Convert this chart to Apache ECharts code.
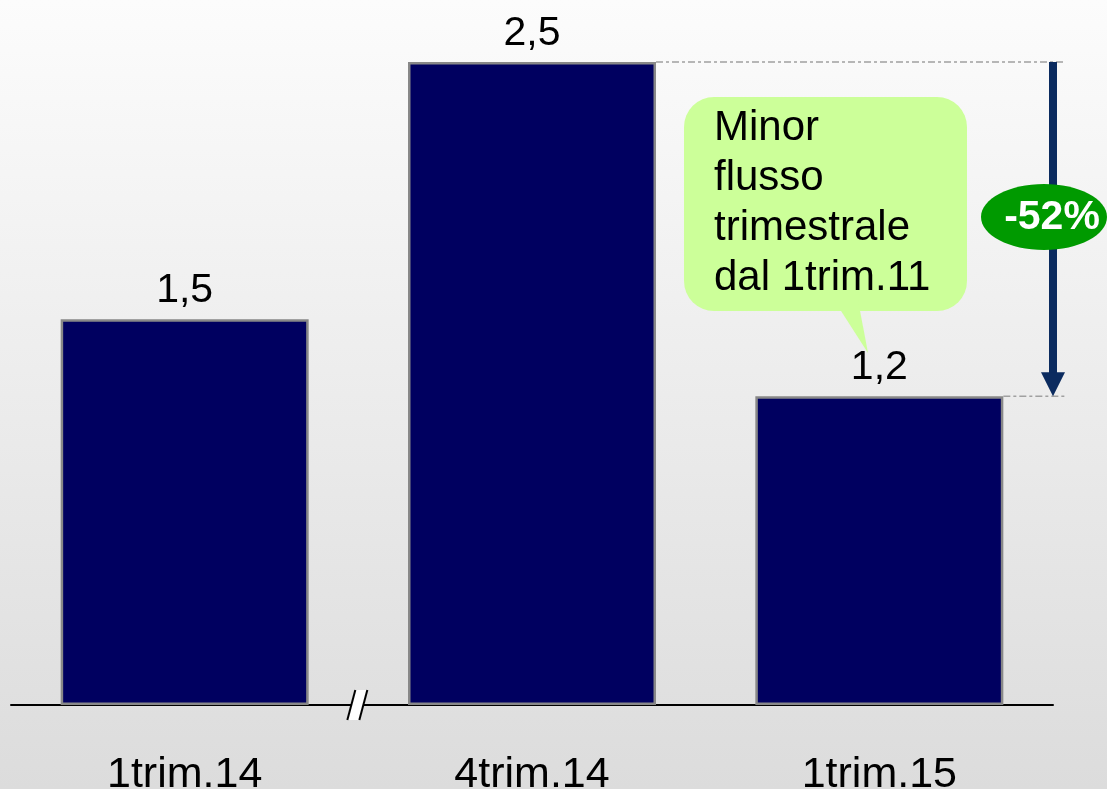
<!DOCTYPE html>
<html>
<head>
<meta charset="utf-8">
<script src="https://cdn.jsdelivr.net/npm/echarts@6/dist/echarts.min.js"></script>
<style>
  html, body { margin: 0; padding: 0; }
  #chart { width: 1107px; height: 789px; }
</style>
</head>
<body>
<div id="chart"></div>
<script>
// Flusso trimestrale: three quarters, with the change from 4trim.14 to 1trim.15
const categories = ['1trim.14', '4trim.14', '1trim.15'];
const values = [1.5, 2.5, 1.2];
const calloutLines = ['Minor', 'flusso', 'trimestrale', 'dal 1trim.11'];

const FONT = '"Liberation Sans", Arial, sans-serif';
const fmt = v => String(v.toFixed(1)).replace('.', ',');

const chart = echarts.init(document.getElementById('chart'));

chart.setOption({
  backgroundColor: {
    type: 'linear', x: 0, y: 0, x2: 0, y2: 1,
    colorStops: [
      { offset: 0, color: '#fcfcfc' },
      { offset: 1, color: '#dcdcdc' }
    ]
  },
  animation: false,
  grid: {
    left: 11, right: 54, top: 62, bottom: 84,
    containLabel: false, outerBoundsMode: 'none'
  },
  xAxis: {
    type: 'category',
    data: categories,
    axisLine: { lineStyle: { color: '#000', width: 2 } },
    axisTick: { show: false },
    axisLabel: { color: '#000', fontSize: 43, fontFamily: FONT, margin: 49 }
  },
  yAxis: {
    type: 'value', min: 0, max: 2.5,
    show: false, splitLine: { show: false }
  },
  series: [{
    type: 'bar',
    data: values,
    barWidth: 248,
    itemStyle: { color: '#000060', borderColor: '#888888', borderWidth: 2.5 },
    label: {
      show: true, position: 'top', distance: 8,
      color: '#000', fontSize: 41, fontFamily: FONT,
      formatter: p => fmt(p.value)
    }
  }]
});

// Annotations placed through the axes' own scales
function drawAnnotations() {
  const px = (i, v) => chart.convertToPixel({ seriesIndex: 0 }, [i, v]);
  const halfBar = 248 / 2;

  const [c0, yBase] = px(0, 0);
  const [c1] = px(1, 0);
  const breakX = (c0 + c1) / 2;

  const [c1x, yHigh] = px(1, values[1]);
  const [c2x, yLow] = px(2, values[2]);
  const arrowX = 1053;
  const dashEnd = 1065;
  const change = Math.round((values[2] - values[1]) / values[1] * 100);

  const graphic = [
    // axis break mark
    {
      type: 'polygon', z: 10,
      shape: { points: [[breakX - 11, yBase + 15], [breakX - 3, yBase - 15], [breakX + 9, yBase - 15], [breakX + 1, yBase + 15]] },
      style: { fill: '#ffffff' }
    },
    {
      type: 'line', z: 11,
      shape: { x1: breakX - 11, y1: yBase + 15, x2: breakX - 3, y2: yBase - 15 },
      style: { stroke: '#000', lineWidth: 2 }
    },
    {
      type: 'line', z: 11,
      shape: { x1: breakX + 1, y1: yBase + 15, x2: breakX + 9, y2: yBase - 15 },
      style: { stroke: '#000', lineWidth: 2 }
    },
    // reference lines from the two compared bars
    {
      type: 'line', z: 5,
      shape: { x1: c1x + halfBar, y1: yHigh, x2: dashEnd, y2: yHigh },
      style: { stroke: '#a0a0a0', lineWidth: 1.5, lineDash: [7, 3, 3, 3] }
    },
    {
      type: 'line', z: 5,
      shape: { x1: c2x + halfBar, y1: yLow, x2: dashEnd, y2: yLow },
      style: { stroke: '#a0a0a0', lineWidth: 1.5, lineDash: [7, 3, 3, 3] }
    },
    // downward arrow
    {
      type: 'rect', z: 6,
      shape: { x: arrowX - 4, y: yHigh, width: 8, height: yLow - yHigh - 22 },
      style: { fill: '#0b2b5f' }
    },
    {
      type: 'polygon', z: 6,
      shape: { points: [[arrowX - 12, yLow - 24], [arrowX + 12, yLow - 24], [arrowX, yLow]] },
      style: { fill: '#0b2b5f' }
    },
    // percentage badge
    {
      type: 'ellipse', z: 8,
      shape: { cx: 1044, cy: 217, rx: 63, ry: 33 },
      style: { fill: '#009a00' }
    },
    {
      type: 'text', z: 9,
      x: 1052, y: 218,
      style: {
        text: change + '%', fill: '#fff', fontSize: 41, fontWeight: 'bold',
        fontFamily: FONT, align: 'center', verticalAlign: 'middle'
      }
    },
    // callout bubble
    {
      type: 'rect', z: 8,
      shape: { x: 684, y: 97, width: 283, height: 214, r: 30 },
      style: { fill: '#ccff99' }
    },
    {
      type: 'polygon', z: 8,
      shape: { points: [[834, 300], [858, 300], [868, 353]] },
      style: { fill: '#ccff99' }
    },
    {
      type: 'text', z: 9,
      x: 714, y: 103,
      style: {
        text: calloutLines.join('\n'), fill: '#000', fontSize: 42,
        lineHeight: 50, fontFamily: FONT, align: 'left', verticalAlign: 'top'
      }
    }
  ];
  chart.setOption({ graphic: graphic });
}

drawAnnotations();
</script>
</body>
</html>
